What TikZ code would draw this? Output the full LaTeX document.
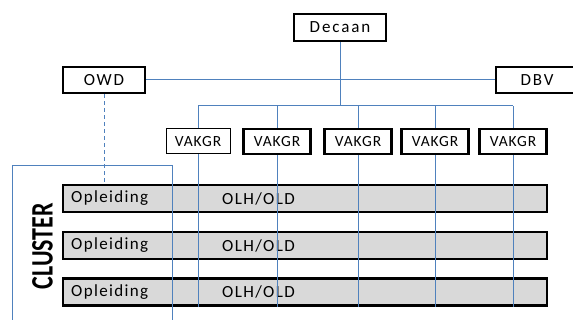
\documentclass[tikz,border=0pt]{standalone}
\usepackage{fontspec}
\setmainfont{Carlito}
\newfontfamily\boxfont[LetterSpace=11]{Carlito}
\newfontfamily\barfont[LetterSpace=8]{Carlito}
\newfontfamily\vakfont[LetterSpace=6]{Carlito}
\usepackage{graphicx}
\definecolor{linkblue}{HTML}{4F81BD}
\definecolor{bargray}{HTML}{D9D9D9}
\tikzset{
  thickbox/.style={draw=black, line width=2.4pt, fill=white, inner sep=0pt, font=\boxfont\fontsize{17}{19}\selectfont},
  vakbox/.style={draw=black, line width=2.4pt, fill=white, inner sep=0pt, minimum width=67pt, minimum height=25pt, font=\vakfont\fontsize{15.5}{18}\selectfont},
  thinvak/.style={vakbox, line width=1pt, minimum width=64pt},
  barbox/.style={draw=black, line width=2.4pt, fill=bargray, inner sep=0pt, minimum width=484pt, minimum height=27pt},
  conn/.style={draw=linkblue, line width=1pt},
  dashconn/.style={draw=linkblue, line width=1pt, dash pattern=on 4pt off 3pt},
  bartext/.style={anchor=west, inner sep=0pt, font=\barfont\fontsize{17}{19}\selectfont},
}
\begin{document}
\begin{tikzpicture}[x=1pt,y=-1pt]
\useasboundingbox (0,0) rectangle (573,320);
% boxes
\node[thickbox, minimum width=92pt, minimum height=27pt] (decaan) at (340,27.5) {Decaan};
\node[thickbox, minimum width=82pt, minimum height=26pt] (owd) at (104,80) {OWD};
\node[thickbox, minimum width=82pt, minimum height=26pt] (dbv) at (537,80) {DBV};
% bars
\node[barbox] (bar1) at (304.7,198.5) {};
\node[barbox] (bar2) at (304.7,245.5) {};
\node[barbox] (bar3) at (304.7,292) {};
\node[bartext] (op1) at (71,198.5) {Opleiding};
\node[bartext] (op2) at (71,245.5) {Opleiding};
\node[bartext] (op3) at (71,292) {Opleiding};
\node[bartext] (ol1) at (222,198.5) {OLH/OLD};
\node[bartext] (ol2) at (222,245.5) {OLH/OLD};
\node[bartext] (ol3) at (222,292) {OLH/OLD};
% vakgr
\node[thinvak] (v1) at (198,141.5) {VAKGR};
\node[vakbox] (v2) at (277,141.5) {VAKGR};
\node[vakbox] (v3) at (358,141.5) {VAKGR};
\node[vakbox] (v4) at (435,141.5) {VAKGR};
\node[vakbox] (v5) at (513,141.5) {VAKGR};
\coordinate (bus) at (340,106);
\coordinate (bottom) at (340,307);
% connectors
\draw[conn] (owd.east) -- (dbv.west);
\draw[conn] (decaan.south) -- (bus);
\draw[conn] (v1.north |- bus) -- (v5.north |- bus);
\foreach \v in {v1,v2,v3,v4,v5}{
  \draw[conn] (\v.north) -- (\v.north |- bus);
  \draw[conn] (\v.south) -- (\v.south |- bottom);
}
\draw[dashconn] (owd.south) -- (owd.south |- bar1.north);
% cluster frame
\coordinate (cl1) at (12,330);
\coordinate (cl2) at (12,166);
\coordinate (cl3) at (172,166);
\coordinate (cl4) at (172,330);
\draw[conn] (cl1) -- (cl2) -- (cl3) -- (cl4);
\node[rotate=90, inner sep=0pt, font=\bfseries\fontsize{24}{26}\selectfont] (cluster) at (42.5,246) {\scalebox{1}[1.3]{CLUSTER}};
\end{tikzpicture}
\end{document}
